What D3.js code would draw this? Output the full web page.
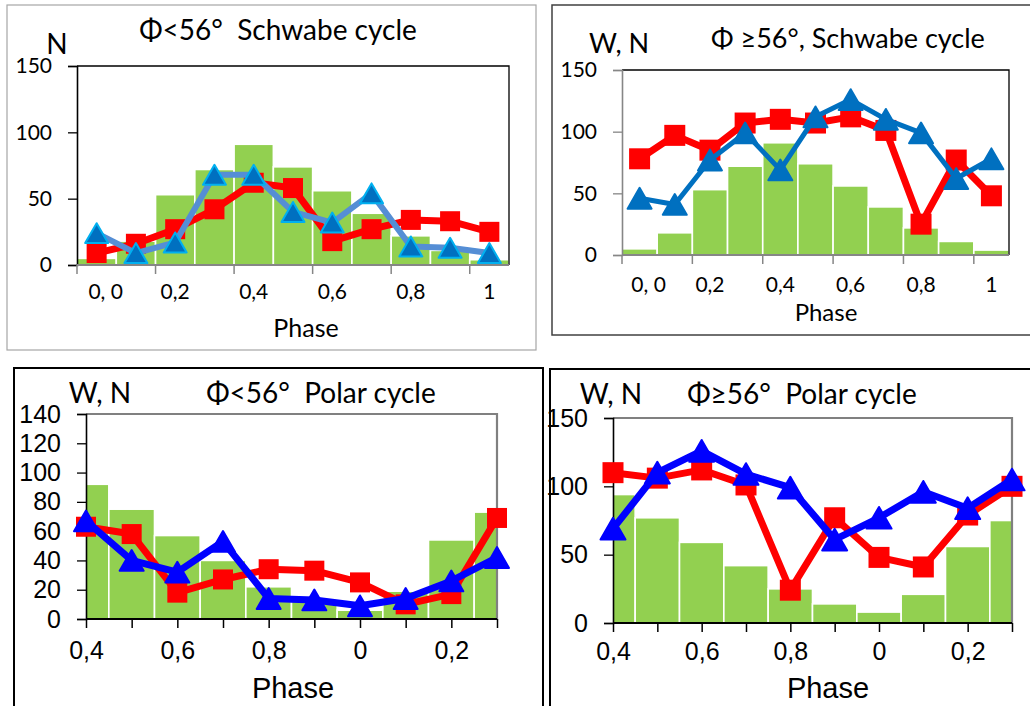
<!DOCTYPE html>
<html>
<head>
<meta charset="utf-8">
<script src="https://cdn.jsdelivr.net/npm/d3@7"></script>
<style>
  body { margin: 0; background: #fff; }
  text { fill: #000; }
</style>
</head>
<body>
<div id="chart"></div>
<script>
// ---- data ----
// Schwabe cycle: 11 phase bins 0.0 .. 1.0
var phaseS = ["0.0", "0.1", "0.2", "0.3", "0.4", "0.5", "0.6", "0.7", "0.8", "0.9", "1.0"];
var phaseSLabels = ["0, 0", "", "0,2", "", "0,4", "", "0,6", "", "0,8", "", "1"];
var barsS = [5, 18, 53, 72, 91, 74, 56, 39, 22, 11, 4];

var redLowS = [9, 16, 27, 42, 62, 58, 18, 27, 34, 33, 25];
var blueLowS = [24, 9, 17, 68, 68, 40, 32, 54, 14, 13, 9];

var redHighS = [78, 97, 85, 107, 110, 107, 112, 101, 25, 77, 48];
var blueHighS = [46, 41, 77, 99, 69, 112, 126, 110, 99, 62, 78];

// Polar cycle: phase starts at 0.4 and wraps round
var phaseP = ["0.4", "0.5", "0.6", "0.7", "0.8", "0.9", "0", "0.1", "0.2", "0.3"];
var phasePLabels = ["0,4", "", "0,6", "", "0,8", "", "0", "", "0,2", ""];

var barsLowP = [92, 75, 57, 40, 22, 13, 6, 19, 54, 73];
var redLowP = [63, 58, 18, 27, 34, 33, 25, 10, 17, 69];
var blueLowP = [67, 40, 32, 53, 14, 13, 9, 14, 26, 42];

var barsHighP = [94, 77, 59, 42, 25, 14, 8, 21, 56, 75];
var redHighP = [110, 106, 112, 101, 24, 77, 48, 41, 79, 100];
var blueHighP = [69, 110, 126, 109, 99, 61, 77, 96, 84, 105];

var yTicks150 = [0, 50, 100, 150];
var yTicks140 = [0, 20, 40, 60, 80, 100, 120, 140];

// ---- setup ----
var W = 1030, H = 706;
var svg = d3.select("#chart").append("svg")
    .attr("width", W)
    .attr("height", H)
    .attr("viewBox", `0 0 ${W} ${H}`);

var calibri = "Lato, 'Open Sans', sans-serif";
var arial = "'Liberation Sans', Arial, sans-serif";
var green = "#92d050";

var panels = [
  {
    id: "p1", frame: { x: 7, y: 5, w: 529, h: 345, stroke: "#a6a6a6", sw: 1.2 },
    plot: { l: 77, r: 509, t: 66, b: 265 },
    kind: "band", cats: phaseS, labels: phaseSLabels, firstDx: 9,
    bars: barsS, red: redLowS, blue: blueLowS,
    yMax: 150, yTicks: yTicks150,
    title: "Φ<56°  Schwabe cycle", titleX: 278, titleY: 30, titleSize: 28,
    yName: "N", yNameX: 57, yNameY: 44, yNameSize: 28,
    tickFont: calibri, tickSize: 21, xLabY: 292,
    phaseX: 306, phaseY: 328, phaseFont: calibri, phaseSize: 25,
    yAxisColor: "#000", xAxisColor: "#868686", boxColor: "#000",
    redW: 7, redSq: 20,
    blueLine: "#558ed5", blueFill: "#0070c0", blueStroke: "#00b0f0", blueW: 6, triSide: 23
  },
  {
    id: "p2", frame: { x: 552, y: 5, w: 482, h: 330, stroke: "#404040", sw: 1.5 },
    plot: { l: 622, r: 1009, t: 70, b: 255 },
    kind: "band", cats: phaseS, labels: phaseSLabels, firstDx: 9,
    bars: barsS, red: redHighS, blue: blueHighS,
    yMax: 150, yTicks: yTicks150,
    title: "Φ ≥56°, Schwabe cycle", titleX: 848, titleY: 39, titleSize: 27,
    yName: "W, N", yNameX: 619, yNameY: 44, yNameSize: 27,
    tickFont: calibri, tickSize: 21, xLabY: 285,
    phaseX: 826, phaseY: 313, phaseFont: calibri, phaseSize: 24,
    yAxisColor: "#868686", xAxisColor: "#868686", boxColor: "#000",
    redW: 7, redSq: 21,
    blueLine: "#0070c0", blueFill: "#0070c0", blueStroke: "#0070c0", blueW: 5, triSide: 24
  },
  {
    id: "p3", frame: { x: 14, y: 368, w: 529, h: 345, stroke: "#000", sw: 2 },
    plot: { l: 86, r: 497, t: 414, b: 619 },
    kind: "point", cats: phaseP, labels: phasePLabels, firstDx: 0,
    bars: barsLowP, red: redLowP, blue: blueLowP,
    yMax: 140, yTicks: yTicks140,
    title: "Φ<56°  Polar cycle", titleX: 321, titleY: 393, titleSize: 28,
    yName: "W, N", yNameX: 100, yNameY: 393, yNameSize: 28,
    tickFont: arial, tickSize: 25, xLabY: 650,
    phaseX: 293, phaseY: 688, phaseFont: arial, phaseSize: 29,
    yAxisColor: "#000", xAxisColor: "#000", boxColor: "#808080",
    redW: 7, redSq: 20,
    blueLine: "#0000ff", blueFill: "#0000ff", blueStroke: "#0000ff", blueW: 7, triSide: 24
  },
  {
    id: "p4", frame: { x: 550, y: 369, w: 484, h: 345, stroke: "#000", sw: 2 },
    plot: { l: 613, r: 1012, t: 418, b: 623 },
    kind: "point", cats: phaseP, labels: phasePLabels, firstDx: 0,
    bars: barsHighP, red: redHighP, blue: blueHighP,
    yMax: 150, yTicks: yTicks150,
    title: "Φ≥56°  Polar cycle", titleX: 802, titleY: 394, titleSize: 28,
    yName: "W, N", yNameX: 611, yNameY: 394, yNameSize: 28,
    tickFont: arial, tickSize: 25, xLabY: 651,
    phaseX: 828, phaseY: 688, phaseFont: arial, phaseSize: 29,
    yAxisColor: "#000", xAxisColor: "#000", boxColor: "#808080",
    redW: 7, redSq: 21,
    blueLine: "#0000ff", blueFill: "#0000ff", blueStroke: "#0000ff", blueW: 7, triSide: 25
  }
];

panels.forEach(drawPanel);

function drawPanel(c) {
    var g = svg.append("g").attr("class", c.id);
    var p = c.plot;

    // outer frame
    g.append("rect")
        .attr("x", c.frame.x).attr("y", c.frame.y)
        .attr("width", c.frame.w).attr("height", c.frame.h)
        .attr("fill", "none")
        .attr("stroke", c.frame.stroke)
        .attr("stroke-width", c.frame.sw);

    var y = d3.scaleLinear().domain([0, c.yMax]).range([p.b, p.t]);

    // x: bar categories for Schwabe, point categories (on ticks) for Polar
    var x, barW;
    if (c.kind == "band") {
        x = d3.scaleBand().domain(c.cats).range([p.l, p.r]).paddingInner(0).paddingOuter(0);
        barW = x.bandwidth();
    } else {
        x = d3.scalePoint().domain(c.cats).range([p.l, p.r]).padding(0);
        barW = x.step();
    }
    var cx = function(d) {
        return c.kind == "band" ? x(d) + barW / 2 : x(d);
    };

    g.append("clipPath").attr("id", "clip-" + c.id)
        .append("rect")
        .attr("x", p.l).attr("y", p.t - 40)
        .attr("width", p.r - p.l).attr("height", p.b - p.t + 40);

    // bars
    g.append("g")
        .attr("clip-path", `url(#clip-${c.id})`)
        .selectAll("rect")
        .data(c.bars).enter().append("rect")
        .attr("x", (d, i) => cx(c.cats[i]) - barW / 2)
        .attr("width", barW)
        .attr("y", d => y(d))
        .attr("height", d => y(0) - y(d))
        .attr("fill", green)
        .attr("stroke", "#fff")
        .attr("stroke-width", 1.6);

    // plot box (top / right)
    g.append("path")
        .attr("d", `M${p.l},${p.t}H${p.r}V${p.b}`)
        .attr("fill", "none")
        .attr("stroke", c.boxColor)
        .attr("stroke-width", c.boxColor == "#000" ? 1.3 : 2.2);

    // y axis
    var ya = g.append("g")
        .attr("transform", `translate(${p.l},0)`)
        .call(d3.axisLeft(y).tickValues(c.yTicks).tickSize(9).tickPadding(16));
    ya.select(".domain").attr("stroke", c.yAxisColor).attr("stroke-width", 1.6);
    ya.selectAll(".tick line").attr("stroke", c.yAxisColor).attr("stroke-width", 1.3);
    ya.selectAll(".tick text")
        .style("font-family", c.tickFont)
        .style("font-size", c.tickSize + "px")
        .attr("fill", "#000");

    // x axis: tick marks
    var xTickVals = c.kind == "band"
        ? c.cats.filter((d, i) => i % 2 == 0)
        : c.cats;
    var xa = g.append("g")
        .attr("transform", `translate(0,${p.b})`)
        .call(d3.axisBottom(x).tickValues(xTickVals).tickSize(9).tickSizeOuter(0).tickFormat(""));
    if (c.kind == "band") {
        // category boundaries, not centres
        xa.selectAll(".tick").attr("transform", d => `translate(${x(d)},0)`);
    }
    xa.select(".domain").attr("stroke", c.xAxisColor).attr("stroke-width", 2)
        .attr("d", `M${p.l},0H${p.r}`);
    xa.selectAll(".tick line").attr("stroke", c.xAxisColor).attr("stroke-width", 1.5);

    // x axis: labels
    var lab = g.append("g")
        .attr("transform", `translate(0,${c.xLabY})`)
        .call(d3.axisBottom(x)
            .tickValues(c.cats.filter((d, i) => c.labels[i] != ""))
            .tickSize(0).tickPadding(0)
            .tickFormat(d => c.labels[c.cats.indexOf(d)]));
    lab.select(".domain").remove();
    lab.selectAll(".tick text")
        .attr("dy", "0.35em")
        .attr("dx", (d, i) => i == 0 ? c.firstDx : 0)
        .style("font-family", c.tickFont)
        .style("font-size", c.tickSize + "px")
        .style("white-space", "pre")
        .attr("fill", "#000");

    // series
    var line = d3.line().x((d, i) => cx(c.cats[i])).y(d => y(d));

    g.append("path").datum(c.red)
        .attr("d", line)
        .attr("fill", "none")
        .attr("stroke", "#ff0000")
        .attr("stroke-width", c.redW)
        .attr("stroke-linejoin", "round");
    g.selectAll(".sq").data(c.red).enter().append("rect")
        .attr("class", "sq")
        .attr("x", (d, i) => cx(c.cats[i]) - c.redSq / 2)
        .attr("y", d => y(d) - c.redSq / 2)
        .attr("width", c.redSq).attr("height", c.redSq)
        .attr("fill", "#ff0000");

    g.append("path").datum(c.blue)
        .attr("d", line)
        .attr("fill", "none")
        .attr("stroke", c.blueLine)
        .attr("stroke-width", c.blueW)
        .attr("stroke-linejoin", "round");
    var s = c.triSide, h = s * Math.sqrt(3) / 2;
    g.selectAll(".tri").data(c.blue).enter().append("path")
        .attr("class", "tri")
        .attr("d", `M0,${-h / 2}L${s / 2},${h / 2}L${-s / 2},${h / 2}Z`)
        .attr("transform", (d, i) => `translate(${cx(c.cats[i])},${y(d)})`)
        .attr("fill", c.blueFill)
        .attr("stroke", c.blueStroke)
        .attr("stroke-width", 2)
        .attr("stroke-linejoin", "round");

    // texts
    g.append("text")
        .attr("x", c.titleX).attr("y", c.titleY)
        .attr("text-anchor", "middle").attr("dy", "0.35em")
        .style("font-family", calibri).style("font-size", c.titleSize + "px")
        .style("white-space", "pre")
        .text(c.title);
    g.append("text")
        .attr("x", c.yNameX).attr("y", c.yNameY)
        .attr("text-anchor", "middle").attr("dy", "0.35em")
        .style("font-family", calibri).style("font-size", c.yNameSize + "px")
        .text(c.yName);
    g.append("text")
        .attr("x", c.phaseX).attr("y", c.phaseY)
        .attr("text-anchor", "middle").attr("dy", "0.35em")
        .style("font-family", c.phaseFont).style("font-size", c.phaseSize + "px")
        .text("Phase");
}
</script>
</body>
</html>
